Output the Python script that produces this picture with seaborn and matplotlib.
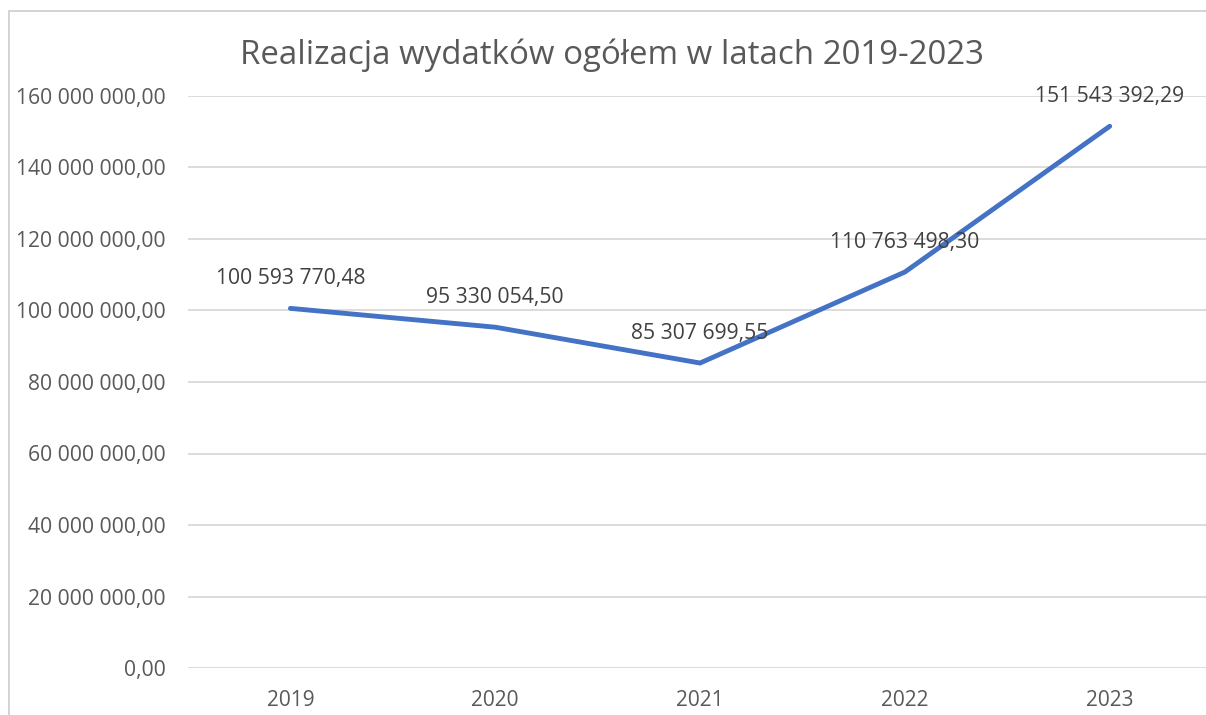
import matplotlib
matplotlib.use("Agg")
import matplotlib.pyplot as plt
import seaborn as sns
import pandas as pd
from matplotlib.patches import Rectangle

# data
years = ["2019", "2020", "2021", "2022", "2023"]
spending = [100593770.48, 95330054.50, 85307699.55, 110763498.30, 151543392.29]
y_ticks = [0, 20e6, 40e6, 60e6, 80e6, 100e6, 120e6, 140e6, 160e6]

df = pd.DataFrame({"rok": years, "wydatki": spending})

def pl_fmt(v):
    s = f"{v:,.2f}"
    return s.replace(",", " ").replace(".", ",")

sns.set_theme(style="white")
plt.rcParams["font.family"] = ["Open Sans", "DejaVu Sans"]
txt = "#595959"

fig = plt.figure(figsize=(12.06, 7.15), dpi=100)
ax = fig.add_axes([188 / 1206, 1 - 668 / 715, (1206 - 188) / 1206, (668 - 96) / 715])

sns.lineplot(data=df, x="rok", y="wydatki", color="#4472C4", linewidth=3.5,
             sort=False, ax=ax, solid_capstyle="round", solid_joinstyle="miter")

for i, v in enumerate(spending):
    ax.annotate(pl_fmt(v), (i, v), xytext=(0, 30), textcoords="offset pixels",
                ha="center", va="center", fontsize=15.2, color="#404040")

ax.set_xlim(-0.5, 4.47)
ax.set_ylim(0, 160e6)
ax.set_yticks(y_ticks)
ax.set_yticklabels([pl_fmt(t) for t in y_ticks], fontsize=15.2, color=txt)
ax.tick_params(axis="y", length=0, pad=16)
ax.tick_params(axis="x", length=0, pad=16, labelsize=15, labelcolor=txt)
ax.yaxis.grid(True, color="#d9d9d9", linewidth=1.3)
ax.set_axisbelow(True)
for s in ax.spines.values():
    s.set_visible(False)
ax.set_xlabel("")
ax.set_ylabel("")

fig.text(612 / 1206, 1 - 55 / 715, "Realizacja wydatków ogółem w latach 2019-2023",
         ha="center", va="center", fontsize=23.8, color=txt)

# outer chart frame
fig.patches.append(Rectangle((9 / 1206, -0.05), 1.2, 1 - 11 / 715 + 0.05,
                             transform=fig.transFigure, fill=False,
                             edgecolor="#d0d0d0", linewidth=1.3))

fig.savefig("out.png", dpi=100)
